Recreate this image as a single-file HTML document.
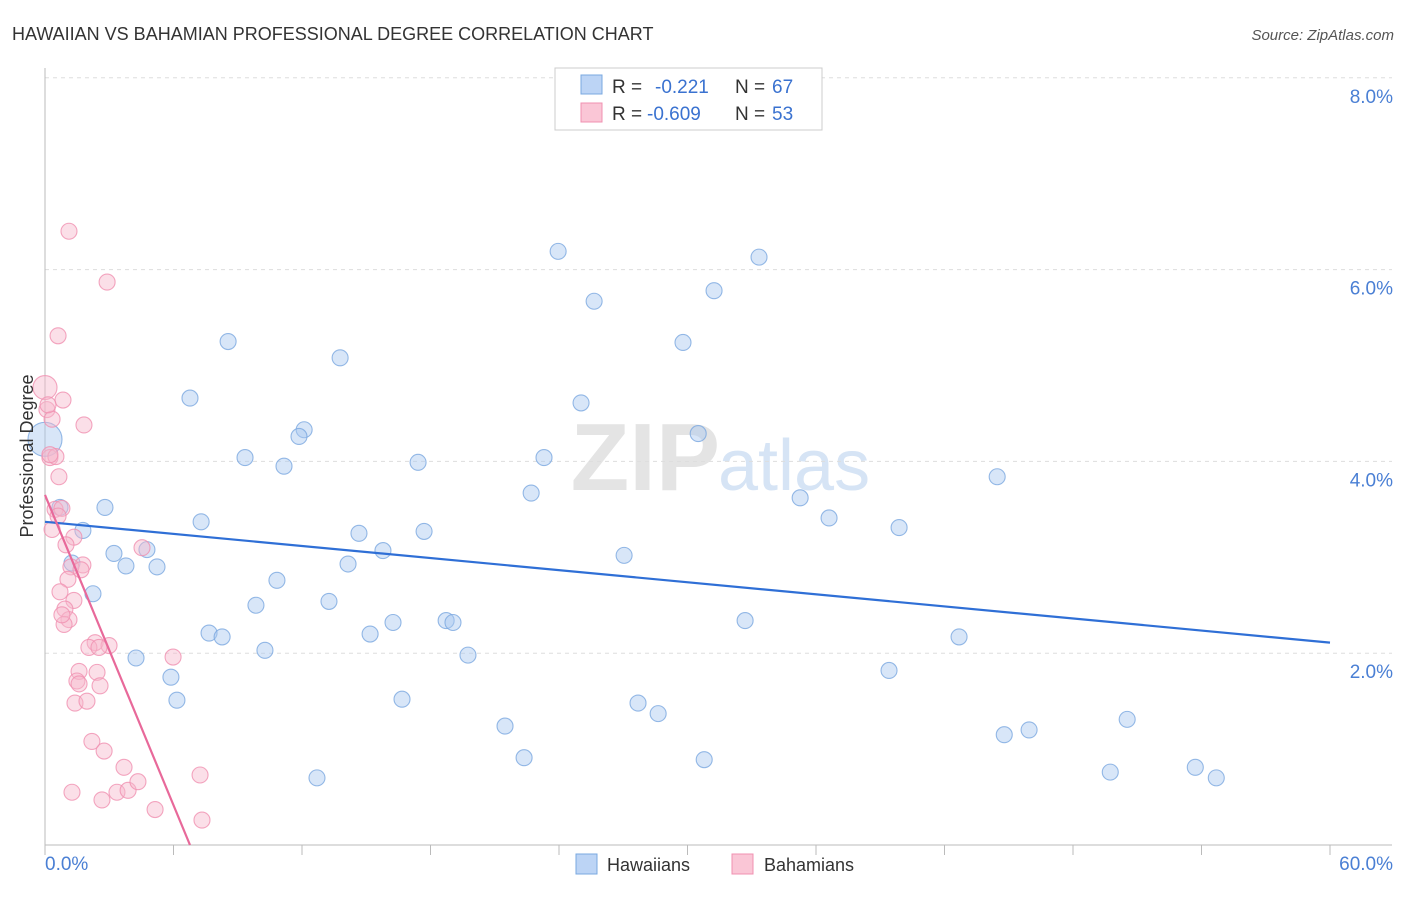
<!DOCTYPE html>
<html><head><meta charset="utf-8">
<style>
body{margin:0;background:#fff;font-family:"Liberation Sans",sans-serif;}
svg text{font-family:"Liberation Sans",sans-serif;}
</style></head>
<body>
<svg id="chart" width="1406" height="892">
<text x="12" y="40" font-size="18" fill="#333">HAWAIIAN VS BAHAMIAN PROFESSIONAL DEGREE CORRELATION CHART</text>
<text x="1394" y="40" font-size="15" fill="#555" text-anchor="end" font-style="italic">Source: ZipAtlas.com</text>
<text x="720" y="490" font-size="96" fill="#e4e4e4" text-anchor="end" font-family="Liberation Serif" font-weight="bold">ZIP</text>
<text x="718" y="490" font-size="72" fill="#d6e4f5">atlas</text>
<g id="grid"></g>
<g id="axes"></g>
<g id="marks"></g>
<text transform="translate(33,456) rotate(-90)" font-size="18" fill="#333" text-anchor="middle">Professional Degree</text>
<g>
<rect x="555" y="68" width="267" height="62" fill="#fff" stroke="#ccc"/>
<rect x="581" y="75" width="21" height="19" fill="#bcd4f5" stroke="#7aa8e0"/>
<rect x="581" y="103" width="21" height="19" fill="#fac6d6" stroke="#f090b0"/>
<text x="612" y="93" font-size="19" fill="#333">R =</text>
<text x="655" y="93" font-size="19" fill="#3a72d0">-0.221</text>
<text x="735" y="93" font-size="19" fill="#333">N =</text>
<text x="772" y="93" font-size="19" fill="#3a72d0">67</text>
<text x="612" y="120" font-size="19" fill="#333">R =</text>
<text x="647" y="120" font-size="19" fill="#3a72d0">-0.609</text>
<text x="735" y="120" font-size="19" fill="#333">N =</text>
<text x="772" y="120" font-size="19" fill="#3a72d0">53</text>
</g>
<g>
<rect x="576" y="854" width="21" height="20" fill="#bcd4f5" stroke="#7aa8e0"/>
<text x="607" y="871" font-size="18" fill="#333">Hawaiians</text>
<rect x="732" y="854" width="21" height="20" fill="#fac6d6" stroke="#f090b0"/>
<text x="764" y="871" font-size="18" fill="#333">Bahamians</text>
</g>
</svg>
<script>
const yTicks=[2,4,6,8];
const yTickLabels=["2.0%","4.0%","6.0%","8.0%"];
const xTicks=[0,6,12,18,24,30,36,42,48,54,60];
const hawX=[8.55,6.77,13.78,23.96,33.34,25.64,31.24,29.79,25.03,12.10,11.86,9.34,11.16,17.42,23.30,30.50,22.70,35.26,44.46,2.80,0.70,1.77,7.29,14.66,17.70,36.61,39.88,4.76,3.22,3.78,5.23,1.26,14.15,15.78,27.04,10.83,2.24,9.85,13.26,7.66,8.27,15.18,16.25,18.73,19.05,32.69,42.68,10.27,19.75,4.25,5.88,39.41,6.16,16.67,27.69,28.63,21.48,44.79,45.95,50.53,22.37,30.78,12.70,49.74,53.71,54.69,0];
const hawY=[5.25,4.66,5.08,6.19,6.13,5.67,5.78,5.24,4.61,4.33,4.26,4.04,3.95,3.99,4.04,4.29,3.67,3.62,3.84,3.52,3.52,3.28,3.37,3.25,3.27,3.41,3.31,3.08,3.04,2.91,2.90,2.94,2.93,3.07,3.02,2.76,2.62,2.50,2.54,2.21,2.17,2.20,2.32,2.34,2.32,2.34,2.17,2.03,1.98,1.95,1.75,1.82,1.51,1.52,1.48,1.37,1.24,1.15,1.20,1.31,0.91,0.89,0.70,0.76,0.81,0.70,4.23];
const hawR=[];
const bahX=[1.12,2.90,0.61,0,0.84,0.09,0.33,1.82,0.23,0.51,0.65,0.47,0.79,0.33,1.35,4.53,1.77,1.21,1.68,1.07,0.70,1.35,0.93,1.12,0.89,2.34,2.99,2.05,2.52,5.98,1.59,2.43,1.49,1.59,2.57,1.40,1.96,2.19,2.76,3.69,7.24,1.26,3.36,2.66,3.88,4.34,5.14,7.33,0.14,0.23,0.98,0.61,0.79];
const bahY=[6.40,5.87,5.31,4.77,4.64,4.54,4.44,4.38,4.04,4.05,3.84,3.50,3.51,3.29,3.21,3.10,2.92,2.90,2.87,2.77,2.64,2.55,2.46,2.35,2.30,2.11,2.08,2.06,2.06,1.96,1.81,1.80,1.71,1.68,1.66,1.48,1.50,1.08,0.98,0.81,0.73,0.55,0.55,0.47,0.57,0.66,0.37,0.26,4.59,4.07,3.13,3.43,2.40];
const hawTrend=[3.37,2.11];
const bahTrend=[3.65,0,6.77];
const X0=45,X1=1330,Y0=845,PX=95.9;
const sx=v=>X0+(v/60)*(X1-X0);
const sy=v=>Y0-v*PX;
const NS="http://www.w3.org/2000/svg";
function mk(tag,attrs,parent){const e=document.createElementNS(NS,tag);for(const k in attrs)e.setAttribute(k,attrs[k]);parent.appendChild(e);return e;}
const grid=document.getElementById('grid'),axes=document.getElementById('axes'),marks=document.getElementById('marks');
yTicks.forEach((t,i)=>{
 const l=mk('line',{x1:X0,x2:1392,y1:sy(t),y2:sy(t),stroke:'#ddd','stroke-dasharray':'4,4'},grid);
 
 
 const tx=mk('text',{x:1393,y:sy(t)+25,'font-size':19,fill:'#4a7fd4','text-anchor':'end'},axes);
 tx.textContent=yTickLabels[i];
 
 
});
const xa=mk('line',{x1:X0,x2:1392,y1:Y0,y2:Y0,stroke:'#bbb'},axes);


const ya=mk('line',{x1:X0,x2:X0,y1:68,y2:Y0,stroke:'#bbb'},axes);


xTicks.forEach(t=>{
 const l=mk('line',{x1:sx(t),x2:sx(t),y1:Y0,y2:Y0+10,stroke:'#bbb'},axes);
 
 
});
const xl0=mk('text',{x:45,y:870,'font-size':19,fill:'#4a7fd4'},axes);xl0.textContent='0.0%';


const xl1=mk('text',{x:1393,y:870,'font-size':19,fill:'#4a7fd4','text-anchor':'end'},axes);xl1.textContent='60.0%';


function pts(xs,ys,fill,stroke,name,bigR){
 xs.forEach((x,i)=>{
  const big=(i===xs.length-1&&name==='hawaiian-point')||(i===3&&name==='bahamian-point');
  const c=mk('circle',{cx:sx(x),cy:sy(ys[i]),r:big?bigR:8,fill:fill,'fill-opacity':0.45,stroke:stroke,'stroke-width':1.1,'stroke-opacity':0.8},marks);
  
  
 });
}
pts(hawX,hawY,'#a9c8f0','#7aa8e0','hawaiian-point',17);
pts(bahX,bahY,'#f7b8cb','#f090b0','bahamian-point',12);
const t1=mk('line',{x1:sx(0),y1:sy(hawTrend[0]),x2:sx(60),y2:sy(hawTrend[1]),stroke:'#2f6fd6','stroke-width':2.2},marks);


const t2=mk('line',{x1:sx(0),y1:sy(bahTrend[0]),x2:sx(bahTrend[2]),y2:sy(bahTrend[1]),stroke:'#e8699a','stroke-width':2.2},marks);


</script>
</body></html>
